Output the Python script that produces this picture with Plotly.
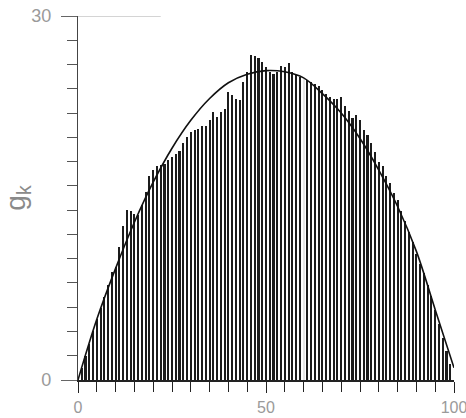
import plotly.graph_objects as go

# bar data (k = 1..99)
k_values = list(range(1, 100))
g_values = [
    1.0, 2.0, 3.0, 4.0, 5.0, 5.9, 6.8, 7.8, 8.9, 9.3,
    11.0, 12.7, 14.0, 13.9, 13.7, 13.6, 14.4, 15.5, 16.8, 17.3,
    17.6, 17.7, 17.8, 18.1, 18.4, 18.6, 18.9, 19.5, 20.0, 20.4,
    20.6, 20.7, 20.9, 20.9, 21.4, 22.1, 21.7, 22.1, 22.3, 23.7,
    23.5, 23.2, 23.1, 24.6, 25.4, 26.8, 26.7, 26.5, 26.2, 25.8,
    25.4, 25.2, 25.4, 25.9, 25.8, 26.1, 25.4, 25.1, 25.0, 24.8,
    24.7, 24.6, 24.4, 24.2, 23.9, 23.6, 23.3, 23.2, 23.2, 23.3,
    22.6, 22.2, 21.6, 21.8, 21.4, 20.6, 20.2, 19.5, 18.8, 18.0,
    17.6, 16.8, 16.2, 15.4, 14.8, 13.9, 13.1, 12.2, 11.4, 10.4,
    9.6, 8.8, 7.8, 6.9, 5.8, 4.6, 3.5, 2.4, 1.3,
]

# smooth reference curve
curve_k = [0, 5, 10, 15, 20, 25, 30, 35, 40, 45, 50, 55, 60, 65, 70, 75, 80, 85, 90, 95, 100]
curve_g = [0, 5.0, 9.2, 13.0, 16.3, 19.1, 21.4, 23.2, 24.5, 25.2, 25.5, 25.4, 24.9, 23.6,
           22.0, 19.9, 17.3, 14.3, 10.6, 5.8, 1.0]

x_tick_vals = [0, 50, 100]
x_tick_text = ["0", "50", "100"]
y_tick_vals = [0, 30]
y_tick_text = ["0", "30"]

bar_colors = ["#1c1c1c"] * len(k_values)
bar_colors[k_values.index(60)] = "#e6e6e6"  # faded stripe in the scan

fig = go.Figure()
fig.add_trace(go.Bar(x=k_values, y=g_values, width=0.55,
                     marker=dict(color=bar_colors, line=dict(width=0)),
                     showlegend=False, hoverinfo="skip"))
fig.add_trace(go.Scatter(x=curve_k, y=curve_g, mode="lines",
                         line=dict(color="#111111", width=1.6, shape="spline", smoothing=1.0),
                         showlegend=False, hoverinfo="skip"))

label_font = dict(family="Liberation Sans, Arial, sans-serif", size=16, color="#9a9a9a")
y_label_font = dict(family="Liberation Sans, Arial, sans-serif", size=18, color="#9a9a9a")

fig.update_layout(
    width=466, height=418,
    margin=dict(l=78, r=12, t=16, b=38),
    paper_bgcolor="white", plot_bgcolor="white",
    bargap=0,
    hovermode=False,
    xaxis=dict(range=[0, 100], tickmode="array", tickvals=x_tick_vals, ticktext=x_tick_text,
               ticks="outside", ticklen=11, tickwidth=1.3, tickcolor="#222",
               minor=dict(dtick=5, tick0=0, ticks="outside", ticklen=10, tickwidth=1.3, tickcolor="#222"),
               showline=True, linecolor="#222", linewidth=1.5, showgrid=False, zeroline=False,
               tickfont=label_font, automargin=False, ticklabeloverflow="allow",
               ticklabelstandoff=1),
    yaxis=dict(range=[0, 30], tickmode="array", tickvals=y_tick_vals, ticktext=y_tick_text,
               ticks="outside", ticklen=16, tickwidth=1.2, tickcolor="#666",
               minor=dict(dtick=2, tick0=0, ticks="outside", ticklen=10, tickwidth=1.2, tickcolor="#555"),
               showline=True, linecolor="#444", linewidth=1.2, showgrid=False, zeroline=False,
               tickfont=y_label_font, automargin=False, ticklabeloverflow="allow",
               ticklabelstandoff=6,
               title=dict(text="g<sub>k</sub>", font=dict(family="Liberation Sans, Arial, sans-serif",
                                                            size=28, color="#8a8a8a"), standoff=2)),
    shapes=[dict(type="line", xref="x", yref="y", x0=0, x1=22, y0=30, y1=30,
                 line=dict(color="#aaaaaa", width=1))],
)

# remove the default 8px page margin so the figure fills the window exactly
fig.write_html("out.html", config={"displayModeBar": False},
               post_script="document.body.style.margin='0';")
